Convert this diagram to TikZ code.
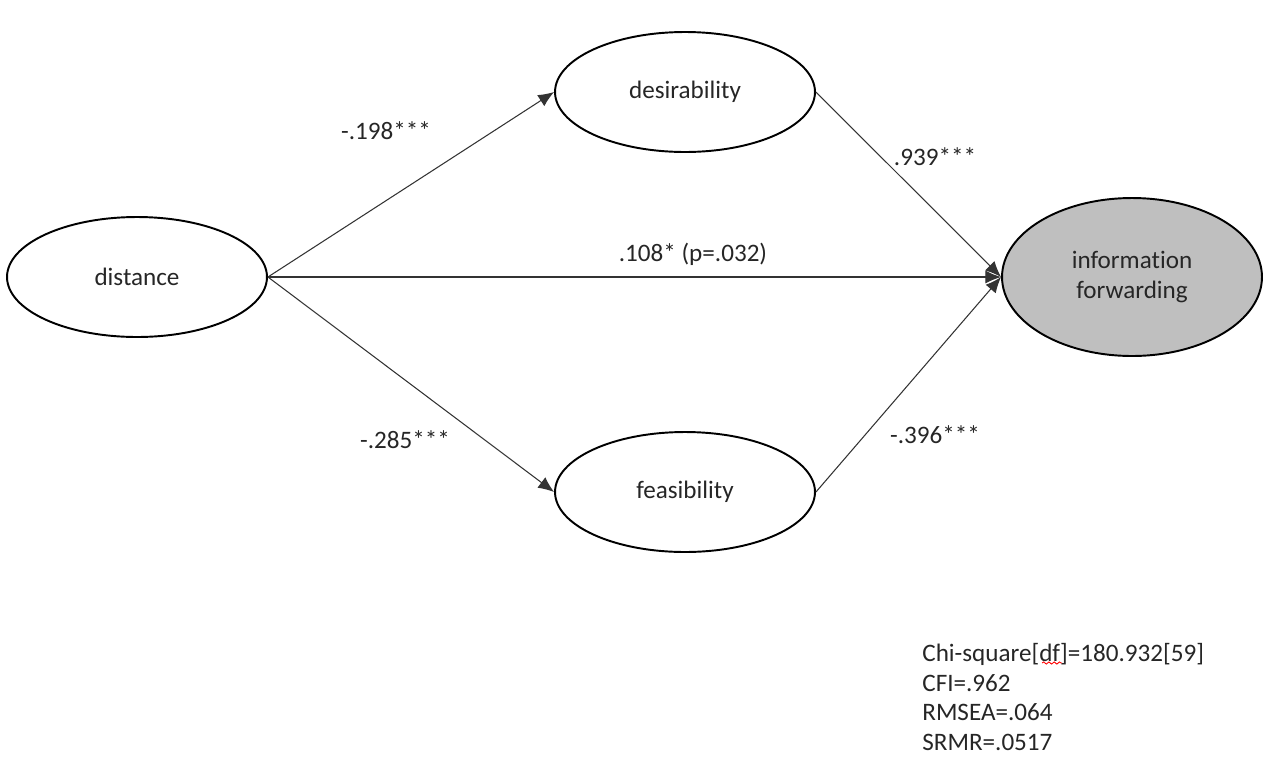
\documentclass[tikz,border=0pt]{standalone}
\usepackage{fontspec}
\setmainfont{Carlito}[Ligatures=NoCommon]
\usetikzlibrary{arrows.meta,decorations.pathmorphing,shapes.geometric}
\definecolor{txt}{HTML}{262626}
\definecolor{fillgray}{HTML}{BFBFBF}
\begin{document}
\begin{tikzpicture}[x=0.02cm,y=-0.02cm,
  latent/.style={ellipse,draw=black,line width=1.1pt,minimum width=5.2cm,minimum height=2.4cm,text=txt,align=center,font=\fontsize{14.3}{17.5}\selectfont},
  path/.style={draw=black!80,line width=0.6pt,-{Latex[length=9pt,width=7.5pt]}},
  coef/.style={text=txt,font=\fontsize{14.3}{17}\selectfont},
  ]
\useasboundingbox (0,0) rectangle (1263,758);
\node[latent] (dist) at (137,277) {distance};
\node[latent] (des) at (685,92) {desirability};
\node[latent] (fea) at (685,492) {feasibility};
\node[latent,fill=fillgray,minimum height=3.16cm] (inf) at (1132,277) {information\\forwarding};
\draw[path] (dist.east) -- (des.west);
\draw[path] (dist.east) -- (fea.west);
\draw[path] (dist.east) -- (inf.west);
\draw[path] (des.east) -- (inf.west);
\draw[path] (fea.east) -- (inf.west);
\node[coef] (c1) at (386,131) {-.198***};
\node[coef] (c2) at (693,254) {.108* (p=.032)};
\node[coef] (c3) at (935,157) {.939***};
\node[coef] (c4) at (405,440) {-.285***};
\node[coef] (c5) at (935,435) {-.396***};
\node[coef,anchor=west,align=left,font=\fontsize{14.3}{17.07}\selectfont,inner sep=0pt] (fit) at (922,697) {Chi-square[df]=180.932[59]\\CFI=.962\\RMSEA=.064\\SRMR=.0517};
\draw[red,line width=0.5pt,decorate,decoration={snake,amplitude=0.6pt,segment length=3pt}] (1042,663) -- (1062,663);
\end{tikzpicture}
\end{document}
